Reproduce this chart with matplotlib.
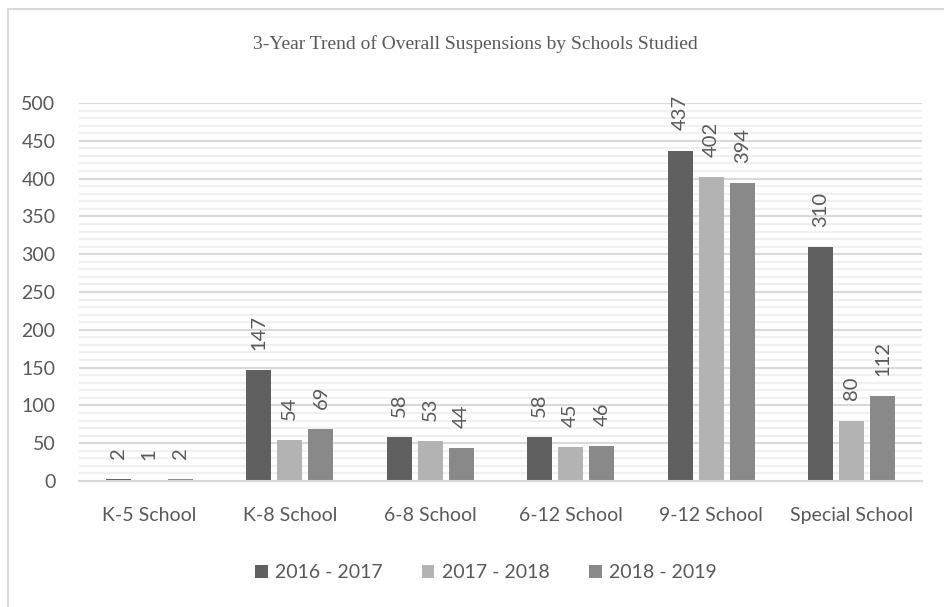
import matplotlib.pyplot as plt
import numpy as np
from matplotlib.lines import Line2D

schools = ['K-5 School', 'K-8 School', '6-8 School', '6-12 School', '9-12 School', 'Special School']
years = ['2016 - 2017', '2017 - 2018', '2018 - 2019']
y2016 = [2, 147, 58, 58, 437, 310]
y2017 = [1, 54, 53, 45, 402, 80]
y2018 = [2, 69, 44, 46, 394, 112]
colors = ['#606060', '#b3b3b3', '#898989']

text_color = '#595959'
plt.rcParams['font.family'] = ['Lato', 'DejaVu Sans']

fig = plt.figure(figsize=(9.45, 6.07), dpi=100)
ax = fig.add_axes([79 / 945, 1 - 481 / 607, (922 - 79) / 945, (481 - 103) / 607])

x = np.arange(len(schools))
width = 0.178
step = 0.222
for i, (vals, label, c) in enumerate(zip([y2016, y2017, y2018], years, colors)):
    bars = ax.bar(x + (i - 1) * step, vals, width, color=c, label=label, zorder=3)
    for b, v in zip(bars, vals):
        ax.annotate(str(v), (b.get_x() + b.get_width() / 2, v), xytext=(0, 14.5),
                    textcoords='offset points', rotation=90, ha='center', va='bottom',
                    fontsize=14.5, color=text_color)

ax.set_xlim(-0.5, len(schools) - 0.5)
ax.set_ylim(0, 500)
ax.set_yticks(range(0, 501, 50))
ax.set_yticks(range(0, 501, 10), minor=True)
ax.grid(axis='y', which='major', color='#d9d9d9', linewidth=1.5, zorder=0)
ax.grid(axis='y', which='minor', color='#f0f0f0', linewidth=1.5, zorder=0)
ax.set_xticks(x)
ax.set_xticklabels(schools)
ax.tick_params(axis='both', which='both', length=0, labelsize=14, colors=text_color)
ax.tick_params(axis='x', pad=19)
ax.tick_params(axis='y', pad=17)
for s in ['top', 'right', 'left']:
    ax.spines[s].set_visible(False)
ax.spines['bottom'].set_color('#d9d9d9')
ax.spines['bottom'].set_linewidth(1.5)
ax.spines['bottom'].set_zorder(4)

fig.text(475 / 945, 1 - 44 / 607, '3-Year Trend of Overall Suspensions by Schools Studied',
         ha='center', va='center', fontsize=14, family='Liberation Serif', color=text_color)

fig.legend(loc='center', bbox_to_anchor=(486 / 945, 1 - 573 / 607), ncol=3, frameon=False,
           fontsize=14, labelcolor=text_color, handlelength=0.65, handleheight=0.65,
           handletextpad=0.4, columnspacing=2.0)

# outer frame along the top and left edges
fig.add_artist(Line2D([8.5 / 945, 1], [1 - 8.5 / 607, 1 - 8.5 / 607], color='#d9d9d9', lw=1.5))
fig.add_artist(Line2D([8.5 / 945, 8.5 / 945], [0, 1 - 8.5 / 607], color='#d9d9d9', lw=1.5))

fig.savefig('out.png', dpi=100)
